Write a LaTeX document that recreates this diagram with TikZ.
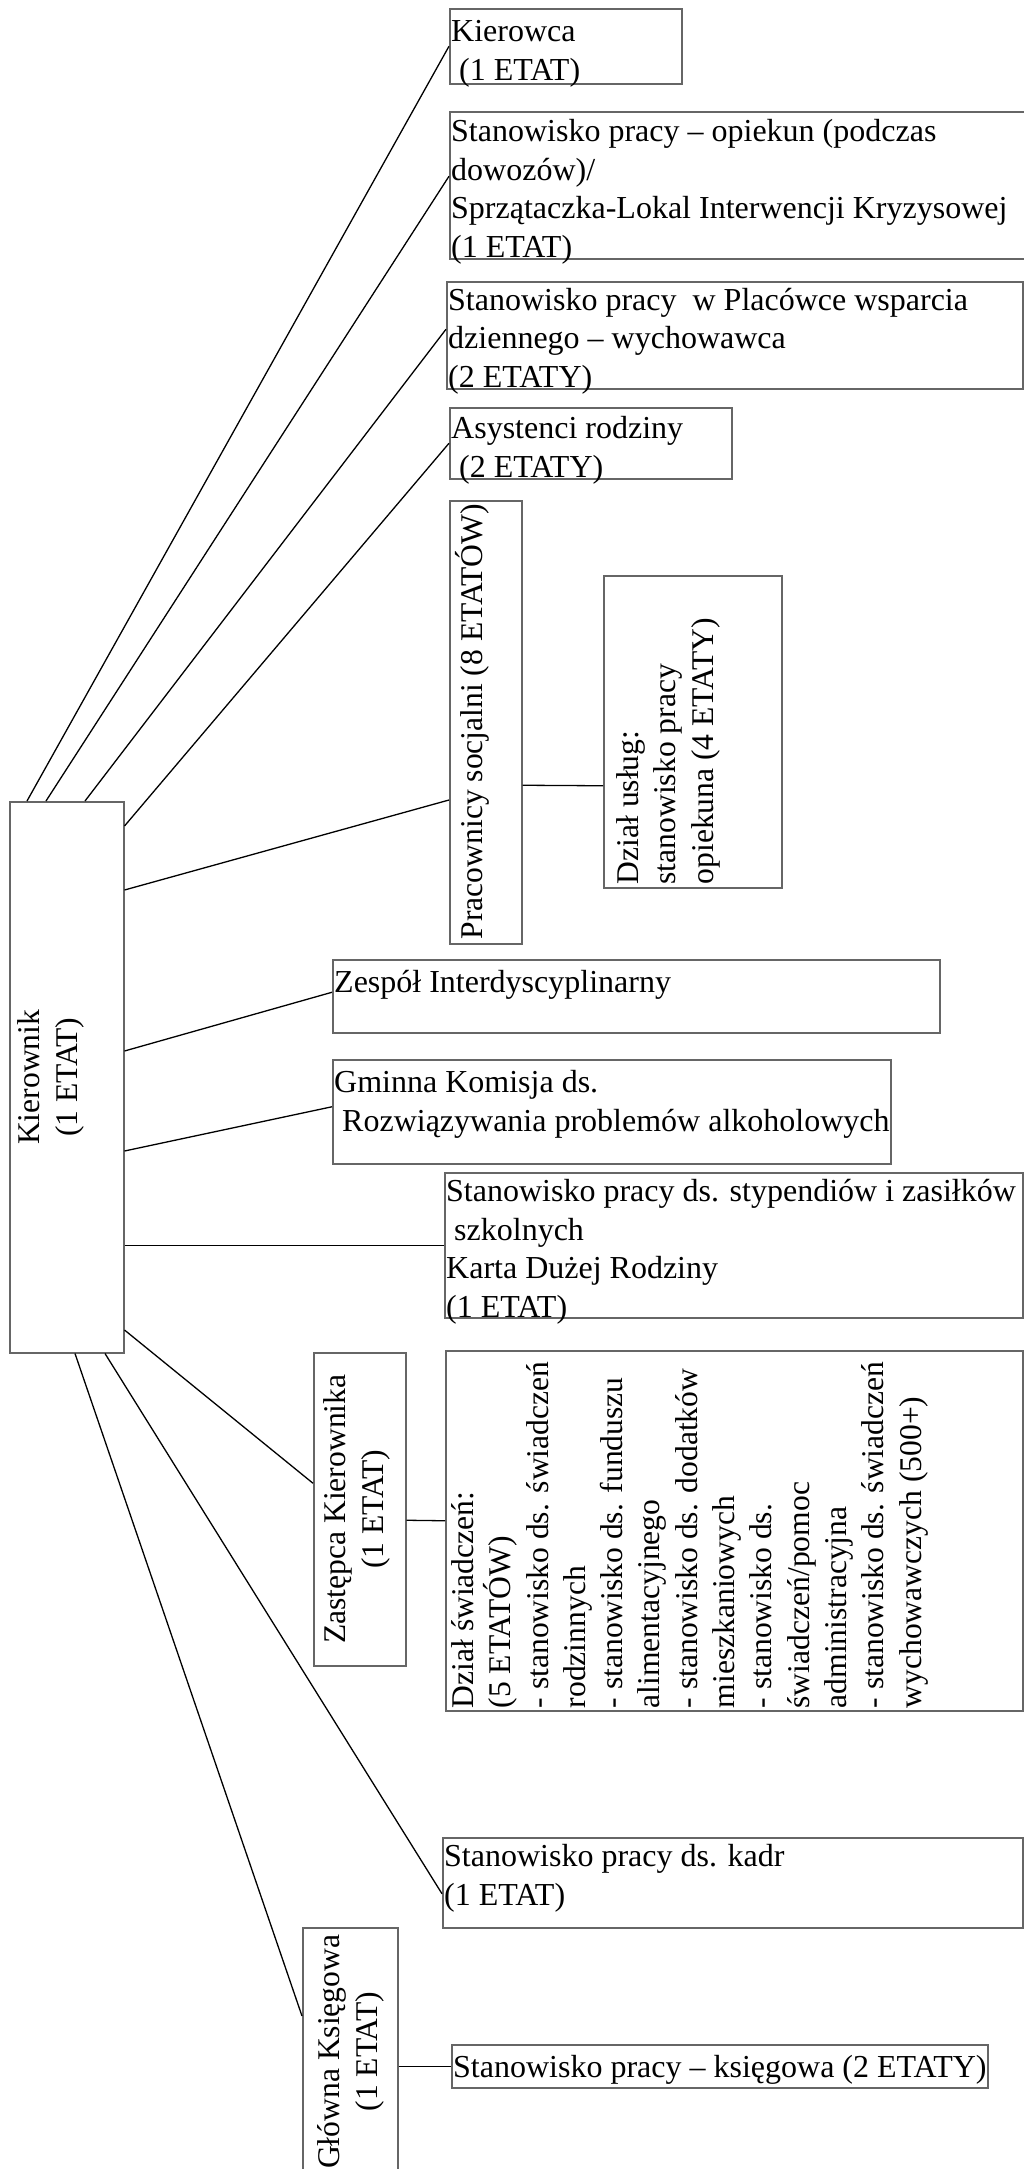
\documentclass[tikz,border=0pt]{standalone}
\usepackage{fontspec}
\setmainfont{Liberation Serif}
\usetikzlibrary{positioning}
\newcommand{\hfs}{\fontsize{32}{38.5}\selectfont}
\newcommand{\vfs}{\fontsize{31.6}{37.3}\selectfont}

\begin{document}
\begin{tikzpicture}[x=1pt,y=-1pt,
    box/.style={draw=black!60, line width=1.5pt, anchor=north west, inner sep=0pt},
    txt/.style={anchor=base west, align=left, inner sep=0pt, font=\hfs},
    rot/.style={anchor=base west, align=left, inner sep=0pt, font=\vfs, rotate=90},
    rotc/.style={rot, align=center, anchor=base},
    link/.style={line width=1.3pt, black}]
        \useasboundingbox (0,0) rectangle (1024,2169);
        % boxes
        \node[box, minimum width=114pt, minimum height=551pt] at (9,801) (kier) {};
        \node[box, minimum width=232pt, minimum height=75pt] at (449,8) (kierowca) {};
        \node[box, minimum width=590pt, minimum height=147pt] at (449,111) (opiekun) {};
        \node[box, minimum width=576pt, minimum height=107pt] at (446,281) (placowka) {};
        \node[box, minimum width=282pt, minimum height=71pt] at (449,407) (asyst) {};
        \node[box, minimum width=72pt, minimum height=443pt] at (449,500) (socjal) {};
        \node[box, minimum width=178pt, minimum height=312pt] at (603,575) (uslugi) {};
        \node[box, minimum width=607pt, minimum height=73pt] at (332,959) (zespol) {};
        \node[box, minimum width=558pt, minimum height=104pt] at (332,1059) (gminna) {};
        \node[box, minimum width=578pt, minimum height=145pt] at (444,1172) (stypend) {};
        \node[box, minimum width=92pt, minimum height=313pt] at (313,1352) (zastepca) {};
        \node[box, minimum width=577pt, minimum height=360pt] at (445,1350) (swiadcz) {};
        \node[box, minimum width=580pt, minimum height=90pt] at (442,1837) (kadr) {};
        \node[box, minimum width=95pt, minimum height=248pt] at (302,1927) (glowna) {};
        \node[box, minimum width=536pt, minimum height=43pt] at (451,2044) (ksieg) {};
        % texts (base = baseline of the last line)
        \node[rotc] at ([xshift=68pt]kier.west) (tkier) {Kierownik\\(1 ETAT)};
        \node[txt] at ([shift={(2pt,-72pt)}]kierowca.north west) (tkierowca) {Kierowca\\~(1 ETAT)};
        \node[txt] at ([shift={(2pt,-146pt)}]opiekun.north west) (topiekun) {Stanowisko pracy – opiekun (podczas\\dowozów)/\\Sprzątaczka-Lokal Interwencji Kryzysowej\\(1 ETAT)};
        \node[txt] at ([shift={(2pt,-106pt)}]placowka.north west) (tplacowka) {Stanowisko pracy~ w Placówce wsparcia\\dziennego – wychowawca\\(2 ETATY)};
        \node[txt] at ([shift={(2pt,-70pt)}]asyst.north west) (tasyst) {Asystenci rodziny\\~(2 ETATY)};
        \node[rot] at ([shift={(33pt,5pt)}]socjal.south west) (tsocjal) {Pracownicy socjalni (8 ETATÓW)};
        \node[rot] at ([shift={(110pt,4pt)}]uslugi.south west) (tuslugi) {Dział usług:\\stanowisko pracy\\opiekuna (4 ETATY)};
        \node[txt] at ([shift={(2pt,-33pt)}]zespol.north west) (tzespol) {Zespół Interdyscyplinarny};
        \node[txt] at ([shift={(2pt,-72pt)}]gminna.north west) (tgminna) {Gminna Komisja ds.\\~Rozwiązywania problemów alkoholowych};
        \node[txt] at ([shift={(2pt,-145pt)}]stypend.north west) (tstypend) {Stanowisko pracy ds. stypendiów i zasiłków\\~szkolnych\\Karta Dużej Rodziny\\(1 ETAT)};
        \node[rotc] at ([xshift=70pt]zastepca.west) (tzastepca) {Zastępca Kierownika\\(1 ETAT)};
        \node[rot] at ([shift={(476pt,3pt)}]swiadcz.south west) (tswiadcz) {Dział świadczeń:\\(5 ETATÓW)\\- stanowisko ds. świadczeń\\rodzinnych\\- stanowisko ds. funduszu\\alimentacyjnego\\- stanowisko ds. dodatków\\mieszkaniowych\\- stanowisko ds.\\świadczeń/pomoc\\administracyjna\\- stanowisko ds. świadczeń\\wychowawczych (500+)};
        \node[txt] at ([shift={(2pt,-68pt)}]kadr.north west) (tkadr) {Stanowisko pracy ds. kadr\\(1 ETAT)};
        \node[rotc] at ([xshift=75pt]glowna.west) (tglowna) {Główna Księgowa\\(1 ETAT)};
        \node[txt] at ([shift={(2pt,-33pt)}]ksieg.north west) (tksieg) {Stanowisko pracy – księgowa (2 ETATY)};
        % connectors
        \draw[link] (kierowca.west) -- ([xshift=18pt]kier.north west);
        \draw[link] ([yshift=9pt]opiekun.west) -- ([xshift=37pt]kier.north west);
        \draw[link] ([yshift=6pt]placowka.west) -- ([xshift=76pt]kier.north west);
        \draw[link] (asyst.west) -- ([yshift=-25pt]kier.north east);
        \draw[link] ([yshift=-89pt]kier.north east) -- ([yshift=-300pt]socjal.north west);
        \draw[link] ([yshift=-63pt]socjal.east) -- ([yshift=-54pt]uslugi.west);
        \draw[link] ([yshift=-250pt]kier.north east) -- ([yshift=4pt]zespol.west);
        \draw[link] ([yshift=-350pt]kier.north east) -- ([yshift=5pt]gminna.west);
        \draw[link] (kier.east |- stypend.west) -- (stypend.west);
        \draw[link] ([yshift=-529pt]kier.north east) -- ([yshift=26pt]zastepca.west);
        \draw[link] ([yshift=-11pt]zastepca.east) -- ([yshift=10pt]swiadcz.west);
        \draw[link] ([xshift=66pt]kier.south west) -- ([yshift=-89pt]glowna.north west);
        \draw[link] ([xshift=96pt]kier.south west) -- ([yshift=-11pt]kadr.west);
        \draw[link] (glowna.east |- ksieg.west) -- (ksieg.west);
\end{tikzpicture}
\end{document}
